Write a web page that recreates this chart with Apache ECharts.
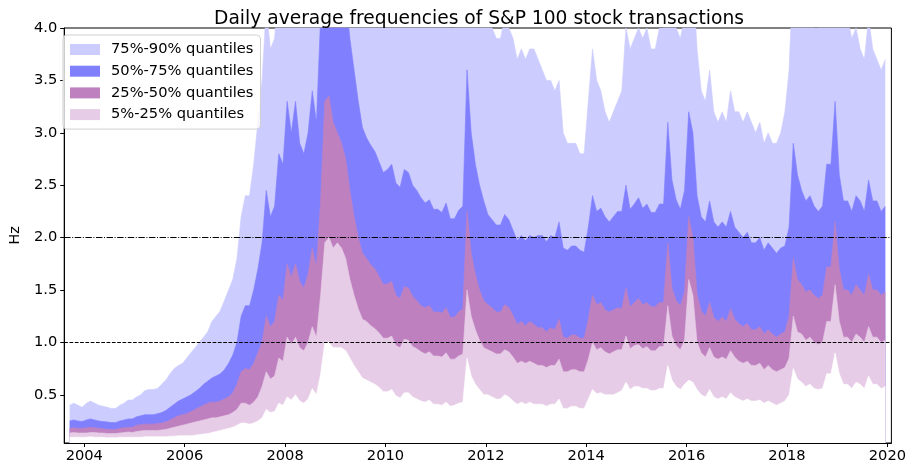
<!DOCTYPE html>
<html>
<head>
<meta charset="utf-8">
<script src="https://cdn.jsdelivr.net/npm/echarts@6/dist/echarts.min.js"></script>
<style>html,body{margin:0;padding:0;background:#fff}#c{width:909px;height:464px}</style>
</head>
<body>
<div id="c"></div>
<script>
// Monthly samples, Sep 2003 .. Dec 2019 (values in Hz), one line per year
const startYear = 2003, startMonth = 9;
const q05 = [
 .095,.095,.095,.095,
 .095,.10,.095,.095,.095,.09,.09,.09,.095,.095,.095,.095,
 .095,.095,.10,.10,.10,.10,.10,.10,.105,.105,.11,.11,
 .11,.11,.115,.12,.125,.13,.14,.15,.16,.17,.18,.19,
 .21,.23,.23,.22,.23,.25,.28,.36,.33,.34,.42,.40,
 .48,.45,.50,.44,.42,.46,.56,.50,.70,1.0,1.0,.95,
 .95,.95,.92,.85,.78,.72,.66,.64,.62,.60,.57,.53,
 .53,.55,.49,.47,.52,.52,.48,.46,.44,.43,.45,.41,
 .41,.40,.43,.39,.40,.42,.43,.85,.68,.60,.55,.50,
 .50,.48,.46,.46,.50,.48,.44,.41,.43,.41,.43,.41,
 .41,.41,.39,.41,.41,.46,.37,.37,.39,.39,.37,.37,
 .46,.55,.51,.52,.50,.50,.50,.52,.54,.62,.55,.58,
 .58,.56,.56,.54,.54,.56,.56,.78,.64,.58,.55,.60,
 .64,.62,.55,.50,.48,.55,.48,.46,.48,.46,.52,.48,
 .46,.44,.46,.44,.44,.45,.42,.44,.42,.40,.42,.44,
 .50,.75,.65,.62,.58,.60,.56,.55,.56,.70,.70,.90,
 .70,.60,.60,.56,.62,.60,.56,.68,.60,.60,.56,.58
];
const q25 = [
 .135,.14,.135,.135,
 .135,.14,.14,.135,.135,.13,.13,.13,.135,.14,.145,.14,
 .15,.155,.16,.16,.16,.16,.165,.17,.18,.19,.20,.21,
 .22,.23,.24,.25,.26,.27,.28,.28,.29,.30,.31,.33,
 .36,.42,.42,.40,.43,.48,.58,.72,.65,.68,.85,.82,
 1.05,.98,1.05,.95,.92,1.0,1.15,1.05,1.45,1.95,2.0,1.9,
 1.95,1.9,1.8,1.6,1.45,1.32,1.22,1.2,1.16,1.13,1.09,1.04,
 1.04,1.06,.97,.95,1.03,1.02,.96,.94,.91,.89,.91,.87,
 .87,.86,.90,.84,.84,.87,.89,1.5,1.25,1.12,1.02,.95,
 .93,.91,.89,.89,.93,.91,.86,.80,.82,.80,.82,.80,
 .78,.78,.76,.78,.78,.84,.72,.72,.74,.74,.72,.72,
 .84,1.0,.93,.95,.91,.89,.91,.93,.93,1.06,.94,.97,
 .98,.94,.96,.92,.92,.96,.96,1.35,1.06,.97,.93,1.02,
 1.6,1.45,1.0,.90,.86,.95,.86,.84,.86,.84,.92,.86,
 .82,.80,.82,.78,.78,.80,.74,.78,.74,.72,.74,.76,
 .85,1.25,1.1,1.08,1.02,1.05,1.0,.98,1.0,1.2,1.2,1.55,
 1.2,1.05,1.05,1.0,1.08,1.05,1.0,1.15,1.05,1.05,1.0,1.02
];
const q50 = [
 .18,.185,.18,.18,
 .185,.19,.185,.18,.175,.17,.17,.17,.18,.185,.19,.19,
 .21,.215,.22,.22,.22,.225,.23,.24,.26,.28,.30,.31,
 .32,.34,.36,.38,.40,.42,.43,.43,.44,.46,.48,.52,
 .60,.72,.75,.74,.80,.90,1.0,1.25,1.15,1.2,1.45,1.4,
 1.75,1.62,1.75,1.58,1.52,1.65,1.9,1.72,2.35,3.3,3.35,3.1,
 3.0,2.9,2.75,2.45,2.2,2.0,1.85,1.8,1.74,1.70,1.63,1.55,
 1.56,1.58,1.45,1.42,1.53,1.52,1.44,1.40,1.35,1.33,1.35,1.29,
 1.29,1.28,1.33,1.24,1.24,1.29,1.32,2.25,1.85,1.65,1.5,1.4,
 1.36,1.33,1.29,1.29,1.36,1.33,1.26,1.17,1.20,1.16,1.20,1.17,
 1.14,1.14,1.10,1.14,1.12,1.22,1.05,1.04,1.07,1.07,1.04,1.04,
 1.22,1.45,1.36,1.38,1.31,1.29,1.31,1.33,1.32,1.52,1.34,1.38,
 1.42,1.36,1.38,1.34,1.34,1.38,1.38,1.95,1.52,1.40,1.35,1.48,
 2.2,2.0,1.46,1.30,1.25,1.38,1.24,1.20,1.24,1.20,1.32,1.22,
 1.18,1.15,1.18,1.12,1.12,1.15,1.08,1.12,1.08,1.05,1.08,1.10,
 1.25,1.8,1.6,1.55,1.48,1.5,1.45,1.42,1.45,1.72,1.72,2.15,
 1.7,1.5,1.5,1.45,1.55,1.5,1.45,1.65,1.5,1.5,1.45,1.48
];
const q75 = [
 .25,.26,.25,.245,
 .26,.27,.26,.25,.245,.24,.235,.235,.25,.26,.27,.27,
 .29,.30,.31,.31,.31,.32,.33,.35,.38,.41,.44,.46,
 .48,.50,.53,.56,.60,.63,.66,.68,.70,.74,.80,.88,
 1.0,1.25,1.35,1.35,1.5,1.7,1.95,2.45,2.2,2.3,2.8,2.7,
 3.3,3.0,3.3,2.9,2.8,3.0,3.4,3.1,4.1,5.3,5.2,4.8,
 4.6,4.5,4.3,3.9,3.6,3.3,3.05,2.95,2.88,2.82,2.72,2.62,
 2.65,2.7,2.52,2.48,2.65,2.62,2.5,2.45,2.38,2.33,2.36,2.27,
 2.27,2.24,2.33,2.18,2.18,2.26,2.3,3.6,3.0,2.7,2.5,2.35,
 2.22,2.17,2.12,2.12,2.22,2.17,2.07,1.97,2.02,1.97,2.02,2.0,
 2.02,2.02,1.96,2.02,2.0,2.15,1.9,1.88,1.92,1.92,1.88,1.86,
 2.1,2.4,2.25,2.28,2.2,2.15,2.2,2.25,2.25,2.5,2.27,2.32,
 2.38,2.28,2.32,2.24,2.24,2.32,2.32,3.1,2.55,2.36,2.27,2.45,
 3.2,3.0,2.4,2.2,2.15,2.35,2.15,2.1,2.15,2.1,2.25,2.1,
 2.05,2.0,2.05,1.95,1.95,2.0,1.88,1.95,1.9,1.85,1.9,1.92,
 2.1,2.9,2.6,2.45,2.35,2.4,2.3,2.25,2.3,2.7,2.7,3.3,
 2.6,2.35,2.35,2.25,2.4,2.35,2.25,2.55,2.35,2.35,2.25,2.3
];
const q90 = [
 .40,.42,.40,.38,
 .42,.44,.42,.40,.39,.38,.37,.37,.40,.42,.45,.45,
 .48,.50,.54,.55,.55,.56,.60,.64,.70,.75,.78,.80,
 .85,.90,.95,1.0,1.05,1.1,1.2,1.25,1.3,1.4,1.5,1.6,
 1.8,2.2,2.4,2.4,2.7,3.1,3.5,4.2,3.8,3.9,4.5,4.4,
 5.0,4.8,5.0,4.6,4.4,4.7,5.2,4.9,5.8,7.0,6.8,6.4,
 6.2,6.0,5.8,5.4,5.1,4.8,4.6,4.5,4.5,4.4,4.4,4.3,
 4.4,4.4,4.2,4.2,4.5,4.4,4.2,4.2,4.1,4.1,4.1,4.0,
 4.1,4.0,4.2,4.0,4.0,4.1,4.2,5.6,4.9,4.6,4.4,4.2,
 4.1,4.0,3.9,3.9,4.1,4.0,3.9,3.7,3.8,3.7,3.8,3.8,
 3.7,3.6,3.5,3.5,3.4,3.5,3.0,2.9,2.9,2.9,2.8,2.8,
 3.3,3.8,3.5,3.4,3.2,3.1,3.2,3.3,3.4,4.0,3.8,3.9,
 4.0,3.9,4.0,3.8,3.8,4.0,4.0,4.8,4.2,4.0,3.9,4.1,
 4.8,4.5,3.8,3.4,3.3,3.6,3.2,3.1,3.2,3.1,3.4,3.2,
 3.2,3.1,3.2,3.1,3.0,3.1,2.9,3.0,2.9,2.9,3.0,3.2,
 3.6,4.6,4.3,4.1,4.0,4.1,4.0,4.0,4.1,4.4,4.4,5.0,
 4.4,4.1,4.1,3.9,4.0,3.8,3.7,4.1,3.8,3.7,3.6,3.7
];
const xTicks = [2004, 2006, 2008, 2010, 2012, 2014, 2016, 2018, 2020];
const yTicks = [0.5, 1.0, 1.5, 2.0, 2.5, 3.0, 3.5, 4.0];
const bandNames = ['75%-90% quantiles', '50%-75% quantiles', '25%-50% quantiles', '5%-25% quantiles'];
const bandColors = ['#ccccff', '#8080ff', '#bf80bf', '#e6cce6'];

const xs = q05.map((_, i) => startYear + (startMonth - 1 + i + 0.5) / 12);
// upper edge of each band, top band first; the last layer whitens below the 5% quantile
const uppers = [q90, q75, q50, q25];
const FONT = 'DejaVu Sans';
const FS = 14.67;

function layer(name, vals, color, extra) {
  return Object.assign({
    name: name, type: 'line', symbol: 'none', showSymbol: false, silent: true,
    clip: true, smooth: false,
    lineStyle: {color: color, width: 0.6},
    itemStyle: {color: color},
    areaStyle: {color: color, opacity: 1, origin: 'start'},
    data: xs.map((x, i) => [x, vals[i]])
  }, extra || {});
}

const series = bandNames.map((nm, k) => layer(nm, uppers[k], bandColors[k]));
series.push(layer('_below5', q05, '#ffffff', {
  markLine: {
    silent: true, symbol: ['none', 'none'], label: {show: false},
    data: [
      {yAxis: 2.0, lineStyle: {color: '#000', width: 1, type: [6.4, 1.6, 1, 1.6]}},
      {yAxis: 1.0, lineStyle: {color: '#000', width: 1, type: [3.7, 1.6]}}
    ]
  }
}));

const chart = echarts.init(document.getElementById('c'), null, {renderer: 'canvas'});
chart.setOption({
  animation: false,
  backgroundColor: '#fff',
  title: {
    text: 'Daily average frequencies of S&P 100 stock transactions',
    left: 474, top: 5, textAlign: 'center',
    textStyle: {fontFamily: FONT, fontSize: 18.67, fontWeight: 'normal', color: '#000'}
  },
  legend: {
    data: bandNames,
    orient: 'vertical', left: 63, top: 35,
    icon: 'rect', itemWidth: 30, itemHeight: 11, itemGap: 6.7,
    padding: [7, 7, 7, 7],
    backgroundColor: 'rgba(255,255,255,0.8)', borderColor: '#d0d0d0', borderWidth: 1, borderRadius: 4,
    textStyle: {fontFamily: FONT, fontSize: FS, color: '#000', padding: [0, 0, 0, 6]}
  },
  grid: {left: 56, right: 17, top: 28, bottom: 21, show: true, borderColor: '#000', borderWidth: 1},
  xAxis: {
    type: 'value', min: 2003.6, max: 2020.08,
    axisLine: {show: true, lineStyle: {color: '#000'}},
    axisTick: {show: true, length: 4, customValues: xTicks, lineStyle: {color: '#000'}},
    axisLabel: {customValues: xTicks, fontFamily: FONT, fontSize: FS, color: '#000', margin: 6, formatter: v => String(v)},
    splitLine: {show: false}
  },
  yAxis: {
    type: 'value', min: 0.04, max: 4.0,
    name: 'Hz', nameLocation: 'middle', nameGap: 30,
    nameTextStyle: {fontFamily: FONT, fontSize: FS, color: '#000'},
    axisLine: {show: true, lineStyle: {color: '#000'}},
    axisTick: {show: true, length: 4, customValues: yTicks, lineStyle: {color: '#000'}},
    axisLabel: {customValues: yTicks, fontFamily: FONT, fontSize: FS, color: '#000', margin: 7, formatter: v => v.toFixed(1)},
    splitLine: {show: false}
  },
  series: series
});
</script>
</body>
</html>
